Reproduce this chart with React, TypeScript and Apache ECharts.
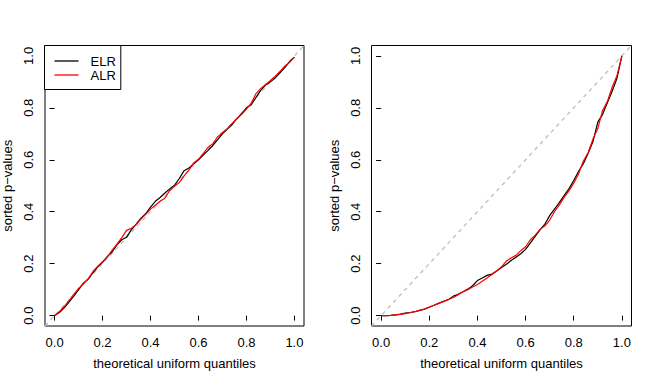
import React, { useEffect, useRef } from "react";
import * as echarts from "echarts";

// theoretical uniform quantiles (x positions)
const quantiles = [
  0.0, 0.02, 0.04, 0.06, 0.08, 0.1, 0.12, 0.14, 0.16, 0.18, 0.2, 0.22, 0.24, 0.26, 0.28, 0.3, 0.32,
  0.34, 0.36, 0.38, 0.4, 0.42, 0.44, 0.46, 0.48, 0.5, 0.52, 0.54, 0.56, 0.58, 0.6, 0.62, 0.64, 0.66,
  0.68, 0.7, 0.72, 0.74, 0.76, 0.78, 0.8, 0.82, 0.84, 0.86, 0.88, 0.9, 0.92, 0.94, 0.96, 0.98, 1.0,
];

// left panel sorted p-values
const leftELR = [
  0.0, 0.012, 0.03, 0.052, 0.075, 0.1, 0.125, 0.14, 0.165, 0.188, 0.205, 0.228, 0.245, 0.272, 0.292,
  0.302, 0.33, 0.352, 0.375, 0.392, 0.418, 0.44, 0.455, 0.472, 0.488, 0.502, 0.528, 0.558, 0.568,
  0.585, 0.6, 0.618, 0.636, 0.655, 0.678, 0.7, 0.718, 0.735, 0.758, 0.778, 0.8, 0.812, 0.84, 0.868,
  0.888, 0.9, 0.915, 0.935, 0.955, 0.978, 0.995,
];
const leftALR = [
  0.0, 0.015, 0.035, 0.058, 0.082, 0.105, 0.122, 0.142, 0.17, 0.19, 0.208, 0.225, 0.252, 0.275, 0.3,
  0.328, 0.336, 0.35, 0.372, 0.39, 0.41, 0.425, 0.44, 0.452, 0.482, 0.498, 0.512, 0.538, 0.56, 0.588,
  0.602, 0.625, 0.648, 0.662, 0.688, 0.705, 0.72, 0.74, 0.758, 0.775, 0.795, 0.818, 0.855, 0.875,
  0.89, 0.905, 0.922, 0.94, 0.96, 0.975, 0.995,
];

// right panel sorted p-values
const rightELR = [
  0.0, 0.0, 0.001, 0.003, 0.006, 0.01, 0.012, 0.015, 0.02, 0.025, 0.032, 0.04, 0.048, 0.055, 0.062,
  0.075, 0.082, 0.092, 0.102, 0.115, 0.135, 0.145, 0.155, 0.16, 0.172, 0.185, 0.198, 0.212, 0.225,
  0.238, 0.255, 0.28, 0.305, 0.33, 0.352, 0.385, 0.41, 0.435, 0.462, 0.488, 0.52, 0.555, 0.585, 0.625,
  0.67, 0.745, 0.775, 0.82, 0.865, 0.915, 1.0,
];
const rightALR = [
  0.0, 0.0, 0.001, 0.003, 0.005, 0.008, 0.011, 0.015, 0.02, 0.025, 0.033, 0.04, 0.047, 0.055, 0.062,
  0.07, 0.08, 0.092, 0.1, 0.11, 0.12, 0.132, 0.145, 0.158, 0.172, 0.188, 0.21, 0.222, 0.232, 0.25,
  0.265, 0.292, 0.31, 0.332, 0.345, 0.368, 0.4, 0.425, 0.455, 0.48, 0.51, 0.545, 0.595, 0.628, 0.68,
  0.72, 0.79, 0.825, 0.88, 0.925, 1.0,
];

const tickValues = [0, 0.2, 0.4, 0.6, 0.8, 1.0];
const axisRange = [-0.04, 1.04];
const refLine = [-0.04, 1.04];

const xTitle = "theoretical uniform quantiles";
const yTitle = "sorted p\u2212values";

const FONT = "Liberation Sans, Arial, Helvetica, sans-serif";

function pairs(xs: number[], ys: number[]) {
  return xs.map((x, i) => [x, ys[i]]);
}

export default function App() {
  const ref = useRef<HTMLDivElement>(null);
  useEffect(() => {
    if (!ref.current) return;
    const chart = echarts.init(ref.current, null, { renderer: "svg" });
    const makeX = (gi: number) => ({
      type: "value",
      gridIndex: gi,
      min: axisRange[0],
      max: axisRange[1],
      name: xTitle,
      nameLocation: "middle",
      nameGap: 31,
      nameTextStyle: { fontFamily: FONT, fontSize: 13, color: "#000" },
      axisLine: { show: false },
      splitLine: { show: false },
      axisTick: { show: true, inside: false, length: 5, customValues: tickValues, lineStyle: { color: "#000" } },
      axisLabel: {
        customValues: tickValues,
        formatter: (v: number) => v.toFixed(1),
        margin: 10,
        fontFamily: FONT,
        fontSize: 13,
        color: "#000",
      },
    });
    const makeY = (gi: number) => ({
      type: "value",
      gridIndex: gi,
      min: axisRange[0],
      max: axisRange[1],
      name: yTitle,
      nameLocation: "middle",
      nameGap: 31,
      nameTextStyle: { fontFamily: FONT, fontSize: 13, color: "#000" },
      axisLine: { show: false },
      splitLine: { show: false },
      axisTick: { show: true, inside: false, length: 5, customValues: tickValues, lineStyle: { color: "#000" } },
      axisLabel: {
        customValues: tickValues,
        formatter: (v: number) => v.toFixed(1),
        rotate: 90,
        margin: 10,
        fontFamily: FONT,
        fontSize: 13,
        color: "#000",
      },
    });
    const ref45 = (gi: number) => ({
      type: "line",
      name: "ref" + gi,
      xAxisIndex: gi,
      yAxisIndex: gi,
      data: pairs(refLine, refLine),
      symbol: "none",
      silent: true,
      z: 1,
      lineStyle: { color: "#BEBEBE", width: 1.3, type: [4, 4] },
    });
    const curve = (gi: number, name: string, ys: number[], color: string, z: number) => ({
      type: "line",
      name,
      xAxisIndex: gi,
      yAxisIndex: gi,
      data: pairs(quantiles, ys),
      symbol: "none",
      showSymbol: false,
      z,
      color,
      lineStyle: { color, width: 1.2 },
    });
    chart.setOption({
      animation: false,
      backgroundColor: "#fff",
      textStyle: { fontFamily: FONT },
      grid: [
        { left: 44.5, top: 45.5, width: 259.5, height: 280.5, show: true, borderColor: "#000", borderWidth: 1, backgroundColor: "transparent" },
        { left: 371.5, top: 45.5, width: 260, height: 280.5, show: true, borderColor: "#000", borderWidth: 1, backgroundColor: "transparent" },
      ],
      xAxis: [makeX(0), makeX(1)],
      yAxis: [makeY(0), makeY(1)],
      legend: {
        data: ["ELR", "ALR"],
        orient: "vertical",
        left: 44.5,
        top: 45.5,
        padding: [9, 5, 8, 10],
        itemGap: 1,
        itemWidth: 24,
        itemHeight: 1.3,
        icon: "rect",
        borderColor: "#000",
        borderWidth: 1,
        backgroundColor: "#fff",
        borderRadius: 0,
        textStyle: { fontFamily: FONT, fontSize: 13, lineHeight: 13, color: "#000", padding: [0, 0, 0, 7] },
      },
      series: [
        ref45(0),
        curve(0, "ELR", leftELR, "#000000", 3),
        curve(0, "ALR", leftALR, "#FF0000", 4),
        ref45(1),
        curve(1, "ELR", rightELR, "#000000", 3),
        curve(1, "ALR", rightALR, "#FF0000", 4),
      ],
    });
    return () => chart.dispose();
  }, []);
  return (
    <div
      ref={ref}
      style={{ position: "fixed", left: 0, top: 0, width: 654, height: 382, background: "#fff" }}
    />
  );
}
